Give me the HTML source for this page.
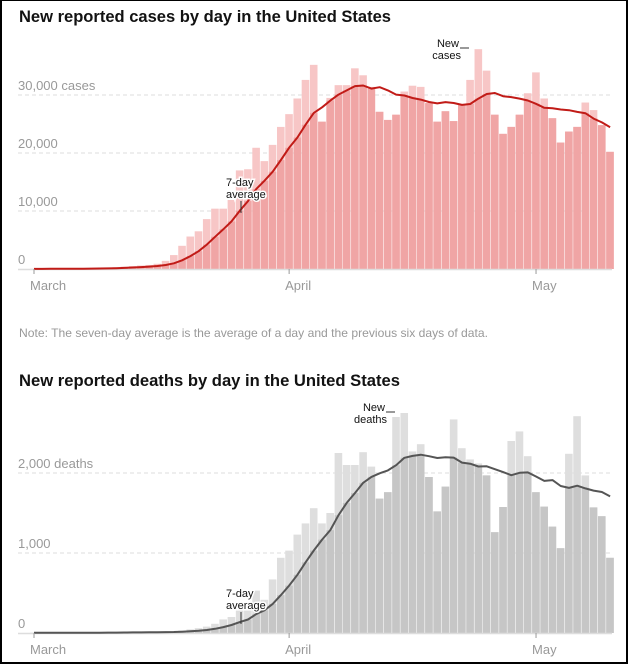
<!DOCTYPE html>
<html><head><meta charset="utf-8">
<style>
html,body{margin:0;padding:0;background:#fff;}
#wrap{position:relative;width:628px;height:664px;box-sizing:border-box;border:2px solid #000;border-top:1px solid #000;overflow:hidden;}
svg{position:absolute;left:-2px;top:-1px;}
text{font-family:"Liberation Sans",sans-serif;}
</style></head>
<body>
<div id="wrap">
<svg id="svg" width="628" height="664" xmlns="http://www.w3.org/2000/svg">
<text x="19" y="22" font-size="17" font-weight="bold" fill="#121212" textLength="372" lengthAdjust="spacingAndGlyphs">New reported cases by day in the United States</text>
<g id="cases"></g>
<text x="19" y="337" font-size="12" fill="#999" textLength="469" lengthAdjust="spacingAndGlyphs">Note: The seven-day average is the average of a day and the previous six days of data.</text>
<text x="19" y="386" font-size="17" font-weight="bold" fill="#121212" textLength="381" lengthAdjust="spacingAndGlyphs">New reported deaths by day in the United States</text>
<g id="deaths"></g>
</svg>
</div>
<script>
const months = ["March","April","May"];
const monthDayIndex = [0,31,61];
const casesValues = [20,30,40,50,60,80,100,120,150,200,300,400,500,600,700,900,1400,2400,4000,5600,6500,8600,10400,10400,11900,17000,17200,20900,18600,21400,24500,26700,29400,32600,35200,25400,29500,31700,31700,34600,33400,31400,27100,25700,26600,30600,31600,31400,28600,25400,27200,25500,28400,32600,37900,34200,26600,23300,24500,26600,30300,33900,29400,26000,21800,23700,24500,28700,27400,24800,20200];
const casesTicks = [0,10000,20000,30000];
const casesTickLabels = ["0","10,000","20,000","30,000 cases"];
const deathsValues = [2,2,3,3,3,4,5,5,6,7,8,9,10,11,12,14,15,20,30,45,60,80,115,170,200,280,280,530,415,670,940,1030,1230,1370,1560,1370,1500,2250,2100,2100,2260,2080,1680,1760,2700,2750,2270,2360,1950,1520,1830,2670,2310,2170,2120,1970,1260,1575,2400,2520,2210,1760,1580,1330,1060,2240,2710,1970,1570,1460,940];
const deathsTicks = [0,1000,2000];
const deathsTickLabels = ["0","1,000","2,000 deaths"];

const NS="http://www.w3.org/2000/svg";
function mk(parent,tag,attrs){const e=document.createElementNS(NS,tag);for(const k in attrs)e.setAttribute(k,attrs[k]);parent.appendChild(e);return e;}
const x0=34, dayW=8.23;
function xScale(d){return x0+d*dayW;}
function avg7(v){return v.map((_,i)=>{const s=v.slice(Math.max(0,i-6),i+1);return s.reduce((a,b)=>a+b,0)/s.length;});}

function draw(g, vals, ticks, labels, y0, pxPerUnit, light, dark, lineCol, monthY, ann){
  const yScale=v=>y0-v*pxPerUnit;
  const av=avg7(vals);
  ticks.forEach((t,i)=>{
    if(i>0){const gl=mk(g,'line',{x1:18,x2:612,y1:yScale(t),y2:yScale(t),stroke:'#ddd','stroke-dasharray':'4,3'});
    
    }
    const tl=mk(g,'text',{x:18,y:yScale(t)-5,'font-size':13,fill:'#999'});tl.textContent=labels[i];
    
    
  });
  vals.forEach((v,i)=>{
    const x=xScale(i)-3.9,w=7.6;
    const b1=mk(g,'rect',{x:x,y:yScale(v),width:w,height:y0-yScale(v),fill:light});
    
    
    const m=Math.min(v,av[i]);
    const b2=mk(g,'rect',{x:x,y:yScale(m),width:w,height:y0-yScale(m),fill:dark});
    
    
  });
  const base=mk(g,'line',{x1:18,x2:612,y1:y0+0.5,y2:y0+0.5,stroke:'#ddd','stroke-width':1.5});
  
  
  const p=mk(g,'path',{d:av.map((a,i)=>(i?'L':'M')+xScale(i).toFixed(1)+','+yScale(a).toFixed(1)).join(''),fill:'none',stroke:lineCol,'stroke-width':2,'stroke-linejoin':'round'});
  
  
  months.forEach((mn,i)=>{
    const x=xScale(monthDayIndex[i]);
    const tk=mk(g,'line',{x1:x,x2:x,y1:y0,y2:y0+5,stroke:'#999'});
    
    
    const t=mk(g,'text',{x:x-4,y:monthY,'font-size':13,fill:'#999'});t.textContent=mn;
    
    
  });
  // annotations
  const a1=mk(g,'text',{x:226,y:ann.avgY,'font-size':11,fill:'#121212',stroke:'#fff','stroke-width':3,'paint-order':'stroke'});
  
  
  mk(a1,'tspan',{x:226}).textContent='7-day';
  mk(a1,'tspan',{x:226,dy:12}).textContent='average';
  const l1=mk(g,'line',{x1:241,x2:241,y1:ann.avgY+15,y2:ann.avgY+27,stroke:'#333'});
  
  
  const a2=mk(g,'text',{'font-size':11,fill:'#121212',stroke:'#fff','stroke-width':3,'paint-order':'stroke','text-anchor':'end'});
  
  
  mk(a2,'tspan',{x:ann.newX,y:ann.newY}).textContent='New';
  mk(a2,'tspan',{x:ann.newX+2,y:ann.newY+12}).textContent=ann.word;
  const l2=mk(g,'line',{x1:ann.newX+1,x2:ann.newX+10,y1:ann.newY+1,y2:ann.newY+1,stroke:'#333'});
  
  
}
draw(document.getElementById('cases'),casesValues,casesTicks,casesTickLabels,269,58/10000,'#f7c6c6','#f0a5a5','#c11b17',290,{avgY:186,newX:459,newY:47,word:'cases'});
draw(document.getElementById('deaths'),deathsValues,deathsTicks,deathsTickLabels,633,80/1000,'#dedede','#c6c6c6','#555',654,{avgY:597,newX:385,newY:411,word:'deaths'});
</script>
</body></html>
